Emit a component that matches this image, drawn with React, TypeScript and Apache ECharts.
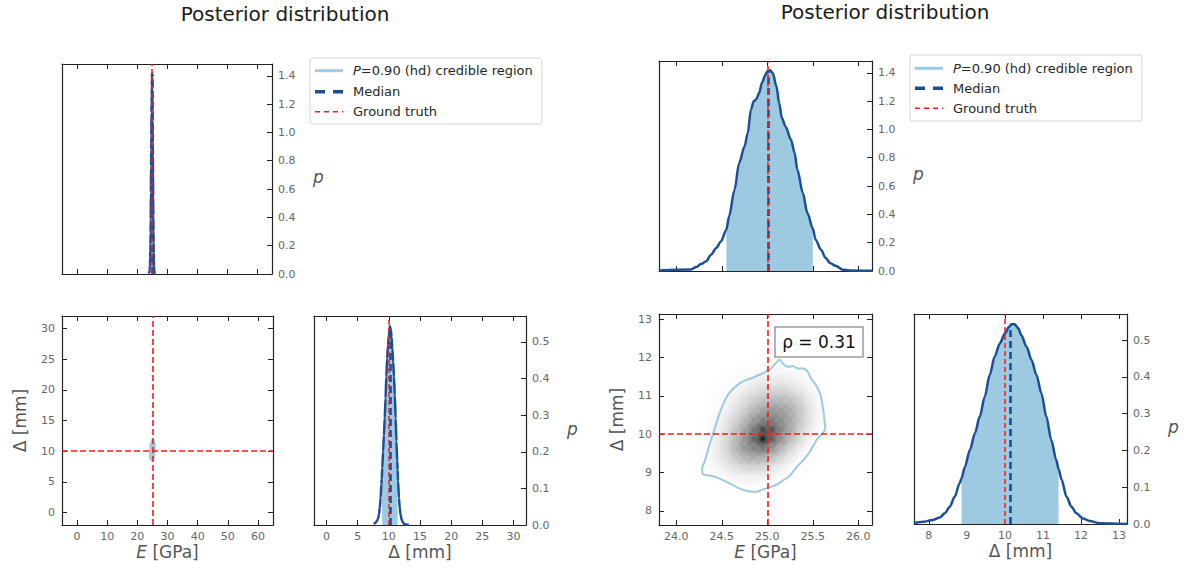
import React, { useEffect, useRef } from 'react';
import * as echarts from 'echarts';

const TITLE = 'Posterior distribution';
const LEGEND_LABELS = ['{i|P}=0.90 (hd) credible region', 'Median', 'Ground truth'];

// Marginal posterior of E [GPa]
const E_X = [23.81, 24.16, 24.22, 24.27, 24.33, 24.38, 24.44, 24.49, 24.55, 24.58, 24.64, 24.69, 24.75, 24.785, 24.82, 24.85, 24.88, 24.91, 24.94, 24.98, 25.0, 25.03, 25.06, 25.1, 25.13, 25.16, 25.2, 25.26, 25.3, 25.33, 25.39, 25.44, 25.5, 25.53, 25.59, 25.64, 25.69, 25.75, 25.83, 25.9, 26.15];
const E_P = [0.004, 0.01, 0.028, 0.049, 0.068, 0.115, 0.162, 0.209, 0.292, 0.386, 0.574, 0.763, 0.88, 0.975, 1.139, 1.198, 1.215, 1.257, 1.328, 1.386, 1.41, 1.417, 1.398, 1.304, 1.186, 1.08, 1.021, 0.927, 0.833, 0.715, 0.551, 0.41, 0.3, 0.221, 0.15, 0.092, 0.056, 0.037, 0.009, 0.004, 0.002];
const E_LO = 24.55;
const E_HI = 25.5;
const E_MEDIAN = 25.01;
const E_MEDIAN_P = 1.41;
const E_TRUTH = 25;

// Marginal posterior of Delta [mm]
const D_X = [7.61, 7.85, 8.11, 8.29, 8.42, 8.55, 8.68, 8.81, 8.86, 8.95, 9.08, 9.21, 9.34, 9.47, 9.6, 9.73, 9.865, 10.0, 10.11, 10.17, 10.26, 10.35, 10.43, 10.57, 10.7, 10.83, 10.96, 11.09, 11.22, 11.35, 11.41, 11.49, 11.62, 11.75, 11.88, 12.05, 12.23, 12.49, 13.21];
const D_P = [0.002, 0.006, 0.011, 0.018, 0.029, 0.047, 0.074, 0.111, 0.125, 0.156, 0.201, 0.246, 0.292, 0.346, 0.405, 0.455, 0.491, 0.518, 0.536, 0.543, 0.543, 0.532, 0.514, 0.482, 0.446, 0.405, 0.355, 0.292, 0.228, 0.174, 0.15, 0.12, 0.074, 0.047, 0.029, 0.015, 0.008, 0.002, 0.0];
const D_LO = 8.86;
const D_HI = 11.41;
const D_MEDIAN = 10.15;
const D_MEDIAN_P = 0.54;
const D_TRUTH = 10;

// 90% contour of the joint posterior
const CONTOUR_E = [25.133, 25.177, 25.224, 25.279, 25.334, 25.396, 25.443, 25.48, 25.535, 25.579, 25.6, 25.615, 25.626, 25.637, 25.608, 25.553, 25.498, 25.454, 25.396, 25.334, 25.29, 25.242, 25.176, 25.114, 25.041, 24.968, 24.895, 24.822, 24.749, 24.676, 24.603, 24.53, 24.457, 24.384, 24.292, 24.284, 24.31, 24.336, 24.358, 24.387, 24.416, 24.445, 24.475, 24.511, 24.555, 24.603, 24.657, 24.724, 24.786, 24.848, 24.914, 24.979, 25.041, 25.089, 25.133];
const CONTOUR_D = [11.954, 11.832, 11.762, 11.78, 11.719, 11.719, 11.632, 11.457, 11.283, 11.065, 10.847, 10.63, 10.412, 10.15, 10.02, 9.89, 9.672, 9.498, 9.323, 9.175, 9.045, 8.905, 8.801, 8.696, 8.626, 8.574, 8.504, 8.496, 8.539, 8.6, 8.696, 8.783, 8.862, 8.914, 8.957, 9.105, 9.28, 9.48, 9.672, 9.89, 10.107, 10.325, 10.543, 10.76, 10.978, 11.135, 11.257, 11.37, 11.431, 11.483, 11.553, 11.631, 11.719, 11.85, 11.954];

// 2D histogram of samples (bin centres and relative density)
const DENS_E = [24.25, 24.35, 24.45, 24.55, 24.65, 24.75, 24.85, 24.95, 25.05, 25.15, 25.25, 25.35, 25.45, 25.55, 25.65, 25.75];
const DENS_D = [11.875, 11.625, 11.375, 11.125, 10.875, 10.625, 10.375, 10.125, 9.875, 9.625, 9.375, 9.125, 8.875, 8.625];
const DENS_STEP_E = 0.1;
const DENS_STEP_D = 0.25;
const DENS = [
  [0, 0, 0, 0, 0, 0, 0.005, 0.01, 0.01, 0.01, 0.01, 0.005, 0.005, 0, 0, 0],
  [0, 0, 0, 0.005, 0.01, 0.011, 0.018, 0.025, 0.034, 0.034, 0.025, 0.018, 0.011, 0.005, 0, 0],
  [0, 0, 0.005, 0.01, 0.018, 0.034, 0.053, 0.076, 0.089, 0.089, 0.076, 0.048, 0.025, 0.011, 0.005, 0],
  [0, 0.005, 0.01, 0.021, 0.043, 0.076, 0.116, 0.146, 0.178, 0.178, 0.146, 0.102, 0.053, 0.021, 0.01, 0],
  [0, 0.005, 0.014, 0.038, 0.076, 0.13, 0.195, 0.25, 0.289, 0.289, 0.25, 0.178, 0.089, 0.034, 0.01, 0],
  [0, 0.01, 0.021, 0.059, 0.116, 0.195, 0.289, 0.373, 0.418, 0.395, 0.33, 0.231, 0.116, 0.043, 0.01, 0],
  [0.005, 0.011, 0.034, 0.089, 0.17, 0.279, 0.418, 0.514, 0.539, 0.465, 0.351, 0.231, 0.116, 0.038, 0.01, 0],
  [0.005, 0.018, 0.048, 0.123, 0.231, 0.373, 0.56, 0.78, 0.72, 0.514, 0.351, 0.195, 0.089, 0.025, 0.01, 0],
  [0.01, 0.025, 0.064, 0.146, 0.279, 0.441, 0.64, 0.95, 0.68, 0.441, 0.269, 0.146, 0.059, 0.014, 0.005, 0],
  [0.01, 0.025, 0.076, 0.162, 0.289, 0.418, 0.514, 0.56, 0.441, 0.289, 0.162, 0.076, 0.025, 0.01, 0, 0],
  [0.01, 0.025, 0.064, 0.13, 0.213, 0.289, 0.33, 0.309, 0.231, 0.146, 0.076, 0.021, 0.01, 0.005, 0, 0],
  [0.005, 0.014, 0.038, 0.076, 0.116, 0.146, 0.162, 0.146, 0.102, 0.059, 0.025, 0.01, 0.005, 0, 0, 0],
  [0, 0.005, 0.011, 0.025, 0.043, 0.053, 0.059, 0.048, 0.034, 0.018, 0.01, 0.005, 0, 0, 0, 0],
  [0, 0, 0.005, 0.01, 0.011, 0.014, 0.014, 0.011, 0.01, 0.005, 0, 0, 0, 0, 0, 0],
];
const RHO = 0.31;

// Tick values
const E_TICKS_WIDE = [0, 10, 20, 30, 40, 50, 60];
const D_TICKS_WIDE = [0, 5, 10, 15, 20, 25, 30];
const E_TICKS = [24.0, 24.5, 25.0, 25.5, 26.0];
const D_TICKS = [8, 9, 10, 11, 12, 13];
const PE_TICKS = [0, 0.2, 0.4, 0.6, 0.8, 1.0, 1.2, 1.4];
const PD_TICKS = [0, 0.1, 0.2, 0.3, 0.4, 0.5];

const FONT = 'DejaVu Sans';
const DARK = '#1b4f93';
const FILL = '#9ecae1';
const RED = '#f21c1c';
const FRAME = '#222';
const LABEL = '#666';
const NAMEC = '#555';

const GRIDS = [
  { left: 62, top: 64, width: 210, height: 210 },
  { left: 62, top: 316, width: 211, height: 209 },
  { left: 314, top: 316, width: 212, height: 209 },
  { left: 659, top: 61, width: 213, height: 210 },
  { left: 659, top: 314, width: 213, height: 211 },
  { left: 914, top: 314, width: 213, height: 210 },
];

const NAME_STYLE: any = {
  fontSize: 17,
  color: NAMEC,
  fontFamily: FONT,
  rich: { i: { fontStyle: 'italic', fontSize: 17, color: NAMEC, fontFamily: FONT } },
};

const fmt1 = (v: number) => v.toFixed(1);
const fmt0 = (v: number) => String(Math.round(v));

const axisLine = { show: true, onZero: false, lineStyle: { color: FRAME, width: 1.2 } };
const tick = (show: boolean, ticks: number[]) => ({
  show,
  inside: true,
  length: 5,
  customValues: ticks,
  lineStyle: { color: FRAME, width: 1 },
});

function xPair(g: number, min: number, max: number, ticks: number[], fmt: any, labels: boolean, name?: string) {
  const base: any = { type: 'value', gridIndex: g, min, max, splitLine: { show: false }, axisLine };
  return [
    {
      ...base,
      position: 'bottom',
      axisTick: tick(true, ticks),
      axisLabel: { show: labels, customValues: ticks, formatter: fmt, color: LABEL, fontSize: 11, fontFamily: FONT, margin: 6 },
      name,
      nameLocation: 'middle',
      nameGap: 18,
      nameTextStyle: NAME_STYLE,
    },
    {
      ...base,
      position: 'top',
      axisTick: tick(true, ticks),
      axisLabel: { show: false },
    },
  ];
}

function yPair(g: number, min: number, max: number, ticks: number[], fmt: any, hist: boolean, name?: string) {
  const base: any = { type: 'value', gridIndex: g, min, max, splitLine: { show: false }, axisLine };
  return [
    {
      ...base,
      position: 'left',
      axisTick: tick(!hist, ticks),
      axisLabel: { show: !hist, customValues: ticks, formatter: fmt, color: LABEL, fontSize: 11, fontFamily: FONT, margin: 7 },
      name: hist ? undefined : name,
      nameLocation: 'middle',
      nameGap: 34,
      nameTextStyle: NAME_STYLE,
    },
    {
      ...base,
      position: 'right',
      axisTick: tick(true, ticks),
      axisLabel: { show: hist, customValues: ticks, formatter: fmt, color: LABEL, fontSize: 11, fontFamily: FONT, margin: 6 },
      name: hist ? '{i|p}' : undefined,
      nameLocation: 'middle',
      nameRotate: 0,
      nameGap: 41,
      nameTextStyle: { ...NAME_STYLE, padding: [16, 0, 0, 0] },
    },
  ];
}

function histSeries(g: number, xs: number[], ps: number[], lo: number, hi: number, med: number, medP: number, truth: number) {
  const curve = xs.map((x, i) => [x, ps[i]]);
  const fill = curve.filter(([x]) => x >= lo - 1e-9 && x <= hi + 1e-9);
  return [
    {
      type: 'line',
      xAxisIndex: 2 * g,
      yAxisIndex: 2 * g + 1,
      data: fill,
      showSymbol: false,
      smooth: 0.3,
      smoothMonotone: 'x',
      lineStyle: { width: 0, opacity: 0 },
      areaStyle: { color: FILL, opacity: 1 },
      silent: true,
      z: 1,
      markLine: {
        silent: true,
        symbol: ['none', 'none'],
        label: { show: false },
        lineStyle: { color: DARK, width: 2.6, type: [7, 4] },
        data: [[{ coord: [med, 0] }, { coord: [med, medP] }]],
      },
    },
    {
      type: 'line',
      xAxisIndex: 2 * g,
      yAxisIndex: 2 * g + 1,
      data: curve,
      showSymbol: false,
      smooth: 0.3,
      smoothMonotone: 'x',
      lineStyle: { color: DARK, width: 2.5 },
      silent: true,
      z: 3,
      markLine: {
        silent: true,
        symbol: ['none', 'none'],
        label: { show: false },
        lineStyle: { color: RED, width: 1.5, type: [5, 3] },
        data: [{ xAxis: truth }],
      },
    },
  ];
}

function jointSeries(g: number, contourWidth: number) {
  const dens: number[][] = [];
  DENS.forEach((row, r) =>
    row.forEach((v, c) => {
      if (v > 0) dens.push([DENS_E[c], DENS_D[r], v]);
    })
  );
  return [
    {
      type: 'custom',
      xAxisIndex: 2 * g,
      yAxisIndex: 2 * g,
      data: dens,
      clip: true,
      silent: true,
      z: 1,
      renderItem: (params: any, api: any) => {
        const e = api.value(0);
        const d = api.value(1);
        const v = Math.min(1, api.value(2));
        // each bin is drawn as a soft (cone) kernel spanning its neighbours
        const a = api.coord([e - DENS_STEP_E, d + DENS_STEP_D]);
        const b = api.coord([e + DENS_STEP_E, d - DENS_STEP_D]);
        return {
          type: 'rect',
          shape: { x: a[0], y: a[1], width: b[0] - a[0], height: b[1] - a[1] },
          style: {
            fill: {
              type: 'radial',
              x: 0.5,
              y: 0.5,
              r: 0.5,
              colorStops: [
                { offset: 0, color: `rgba(0,0,0,${v})` },
                { offset: 1, color: 'rgba(0,0,0,0)' },
              ],
            },
          },
        };
      },
    },
    {
      type: 'line',
      xAxisIndex: 2 * g,
      yAxisIndex: 2 * g,
      data: CONTOUR_E.map((e, i) => [e, CONTOUR_D[i]]),
      showSymbol: false,
      smooth: 0.2,
      lineStyle: { color: FILL, width: contourWidth },
      silent: true,
      z: 2,
      markLine: {
        silent: true,
        symbol: ['none', 'none'],
        label: { show: false },
        lineStyle: { color: RED, width: 1.6, type: [6, 3] },
        data: [{ xAxis: E_TRUTH }, { yAxis: D_TRUTH }],
      },
    },
  ];
}

function legendGraphic(bx: number, by: number, rowY: number[]) {
  const lx1 = bx + 5;
  const lx2 = bx + 33;
  const tx = bx + 43;
  const txtStyle = (text: string) => ({
    text,
    fontSize: 13,
    fontFamily: FONT,
    fill: '#262626',
    verticalAlign: 'middle',
    align: 'left',
    rich: { i: { fontStyle: 'italic', fontSize: 13, fontFamily: FONT, fill: '#262626', color: '#262626' } },
  });
  return [
    { type: 'rect', shape: { x: bx, y: by, width: 232, height: 66, r: 3 }, style: { fill: '#fff', stroke: '#d4d4d4', lineWidth: 1 } },
    { type: 'line', shape: { x1: lx1, y1: rowY[0], x2: lx2, y2: rowY[0] }, style: { stroke: FILL, lineWidth: 3 } },
    { type: 'line', shape: { x1: lx1, y1: rowY[1], x2: lx2, y2: rowY[1] }, style: { stroke: DARK, lineWidth: 3.5, lineDash: [10, 8] } },
    { type: 'line', shape: { x1: lx1, y1: rowY[2], x2: lx2, y2: rowY[2] }, style: { stroke: RED, lineWidth: 1.5, lineDash: [5, 4] } },
    { type: 'text', x: tx, y: rowY[0], style: txtStyle(LEGEND_LABELS[0]) },
    { type: 'text', x: tx, y: rowY[1], style: txtStyle(LEGEND_LABELS[1]) },
    { type: 'text', x: tx, y: rowY[2], style: txtStyle(LEGEND_LABELS[2]) },
  ];
}

export default function App() {
  const ref = useRef<HTMLDivElement>(null);
  useEffect(() => {
    if (!ref.current) return;
    const chart = echarts.init(ref.current, undefined, { renderer: 'svg' });
    const eWide = [-5, 65];
    const dWideX = [-2, 32];
    const dWideY = [-2, 32];
    const eNarrow = [23.81, 26.15];
    const dNarrowY = [7.63, 13.14];
    const dNarrowX = [7.61, 13.21];
    const peMax = 1.483;
    const pdMax = 0.571;

    const xAxis = [
      ...xPair(0, eWide[0], eWide[1], E_TICKS_WIDE, fmt0, false),
      ...xPair(1, eWide[0], eWide[1], E_TICKS_WIDE, fmt0, true, '{i|E} [GPa]'),
      ...xPair(2, dWideX[0], dWideX[1], D_TICKS_WIDE, fmt0, true, 'Δ [mm]'),
      ...xPair(3, eNarrow[0], eNarrow[1], E_TICKS, fmt1, false),
      ...xPair(4, eNarrow[0], eNarrow[1], E_TICKS, fmt1, true, '{i|E} [GPa]'),
      ...xPair(5, dNarrowX[0], dNarrowX[1], D_TICKS, fmt0, true, 'Δ [mm]'),
    ];
    const yAxis = [
      ...yPair(0, 0, peMax, PE_TICKS, fmt1, true),
      ...yPair(1, dWideY[0], dWideY[1], D_TICKS_WIDE, fmt0, false, 'Δ [mm]'),
      ...yPair(2, 0, pdMax, PD_TICKS, fmt1, true),
      ...yPair(3, 0, peMax, PE_TICKS, fmt1, true),
      ...yPair(4, dNarrowY[0], dNarrowY[1], D_TICKS, fmt0, false, 'Δ [mm]'),
      ...yPair(5, 0, pdMax, PD_TICKS, fmt1, true),
    ];

    const series = [
      ...histSeries(0, E_X, E_P, E_LO, E_HI, E_MEDIAN, E_MEDIAN_P, E_TRUTH),
      ...jointSeries(1, 3),
      ...histSeries(2, D_X, D_P, D_LO, D_HI, D_MEDIAN, D_MEDIAN_P, D_TRUTH),
      ...histSeries(3, E_X, E_P, E_LO, E_HI, E_MEDIAN, E_MEDIAN_P, E_TRUTH),
      ...jointSeries(4, 2),
      ...histSeries(5, D_X, D_P, D_LO, D_HI, D_MEDIAN, D_MEDIAN_P, D_TRUTH),
    ];

    const titleStyle = { text: TITLE, fontSize: 20, fontFamily: FONT, fill: '#1a1a1a', align: 'center', verticalAlign: 'middle' };

    const graphic: any[] = [
      { type: 'text', x: 285, y: 13.5, style: titleStyle },
      { type: 'text', x: 885, y: 12, style: titleStyle },
      ...legendGraphic(310, 58, [70.7, 91.7, 111.7]),
      ...legendGraphic(910, 55, [68.3, 88.3, 108.3]),
      { type: 'rect', shape: { x: 775, y: 327, width: 88, height: 30 }, style: { fill: '#fff', stroke: '#9a9a9a', lineWidth: 1.5 }, z: 100 },
      {
        type: 'text',
        x: 819,
        y: 342,
        z: 101,
        style: { text: `ρ = ${RHO.toFixed(2)}`, fontSize: 17, fontFamily: FONT, fill: '#111', align: 'center', verticalAlign: 'middle' },
      },
    ];

    chart.setOption({
      animation: false,
      textStyle: { fontFamily: FONT },
      grid: GRIDS.map((g) => ({ ...g, containLabel: false })),
      xAxis,
      yAxis,
      series,
      graphic,
    });
    return () => chart.dispose();
  }, []);
  return <div ref={ref} style={{ position: 'absolute', left: 0, top: 0, width: 1188, height: 572, background: '#fff' }} />;
}
